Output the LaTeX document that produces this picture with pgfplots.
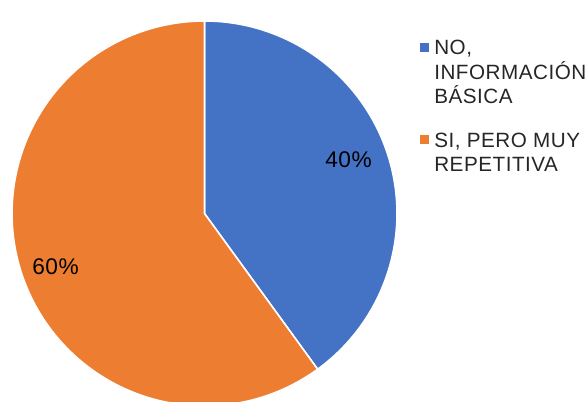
\documentclass[border=0pt]{standalone}
\usepackage{pgfplots}
\usepackage{pgfplotstable}
\pgfplotsset{compat=1.18}
\usepackage{fontspec}
\setmainfont{Liberation Sans}
\newfontfamily\legfont[LetterSpace=2.5]{Liberation Sans}
\newfontfamily\labfont[LetterSpace=2.5]{Liberation Sans}
\definecolor{pieBlue}{HTML}{4472C4}
\definecolor{pieOrange}{HTML}{ED7D31}
\pgfplotstableread{
label value
NO 40
SI 60
}\pietable
\pgfplotstablegetelem{0}{value}\of\pietable
\let\vA\pgfplotsretval
\pgfplotstablegetelem{1}{value}\of\pietable
\let\vB\pgfplotsretval
\pgfmathsetmacro{\aStart}{90}
\pgfmathsetmacro{\aMid}{90-3.6*\vA}
\pgfmathsetmacro{\aEnd}{90-3.6*(\vA+\vB)}
\def\cx{204.5}
\def\cy{-213.5}
\def\rr{192.5}
\begin{document}
\begin{tikzpicture}
\clip (0,0) rectangle (440.25pt,301.5pt);
\begin{axis}[
  scale only axis,
  width=440.25pt, height=301.5pt,
  xmin=0, xmax=587, ymin=-402, ymax=0,
  axis lines=none,
  clip=true,
]
\addplot[fill=pieBlue, draw=white, line width=1.2pt, domain=\aStart:\aMid, samples=120, line join=round]
  ({\cx+\rr*cos(x)}, {\cy+\rr*sin(x)}) -- (axis cs:\cx,\cy) -- cycle;
\addplot[fill=pieOrange, draw=white, line width=1.2pt, domain=\aMid:\aEnd, samples=180, line join=round]
  ({\cx+\rr*cos(x)}, {\cy+\rr*sin(x)}) -- (axis cs:\cx,\cy) -- cycle;
\node[anchor=base west, inner sep=0pt, font=\labfont\fontsize{17pt}{20pt}\selectfont] at (axis cs:325,-167.5) {\vA\%};
\node[anchor=base west, inner sep=0pt, font=\labfont\fontsize{17pt}{20pt}\selectfont] at (axis cs:32,-275) {\vB\%};
\fill[pieBlue] (axis cs:420,-43.5) rectangle (axis cs:429,-52.5);
\fill[pieOrange] (axis cs:420,-135.5) rectangle (axis cs:429,-144.5);
\tikzset{leg/.style={anchor=base west, inner sep=0pt, font=\legfont\fontsize{15.5pt}{18pt}\selectfont, text=black!85}}
\node[leg] at (axis cs:434,-55) {NO,};
\node[leg] at (axis cs:434,-79.5) {INFORMACIÓN};
\node[leg] at (axis cs:434,-104) {BÁSICA};
\node[leg] at (axis cs:434,-147.7) {SI, PERO MUY};
\node[leg] at (axis cs:434,-172) {REPETITIVA};
\end{axis}
\end{tikzpicture}
\end{document}
